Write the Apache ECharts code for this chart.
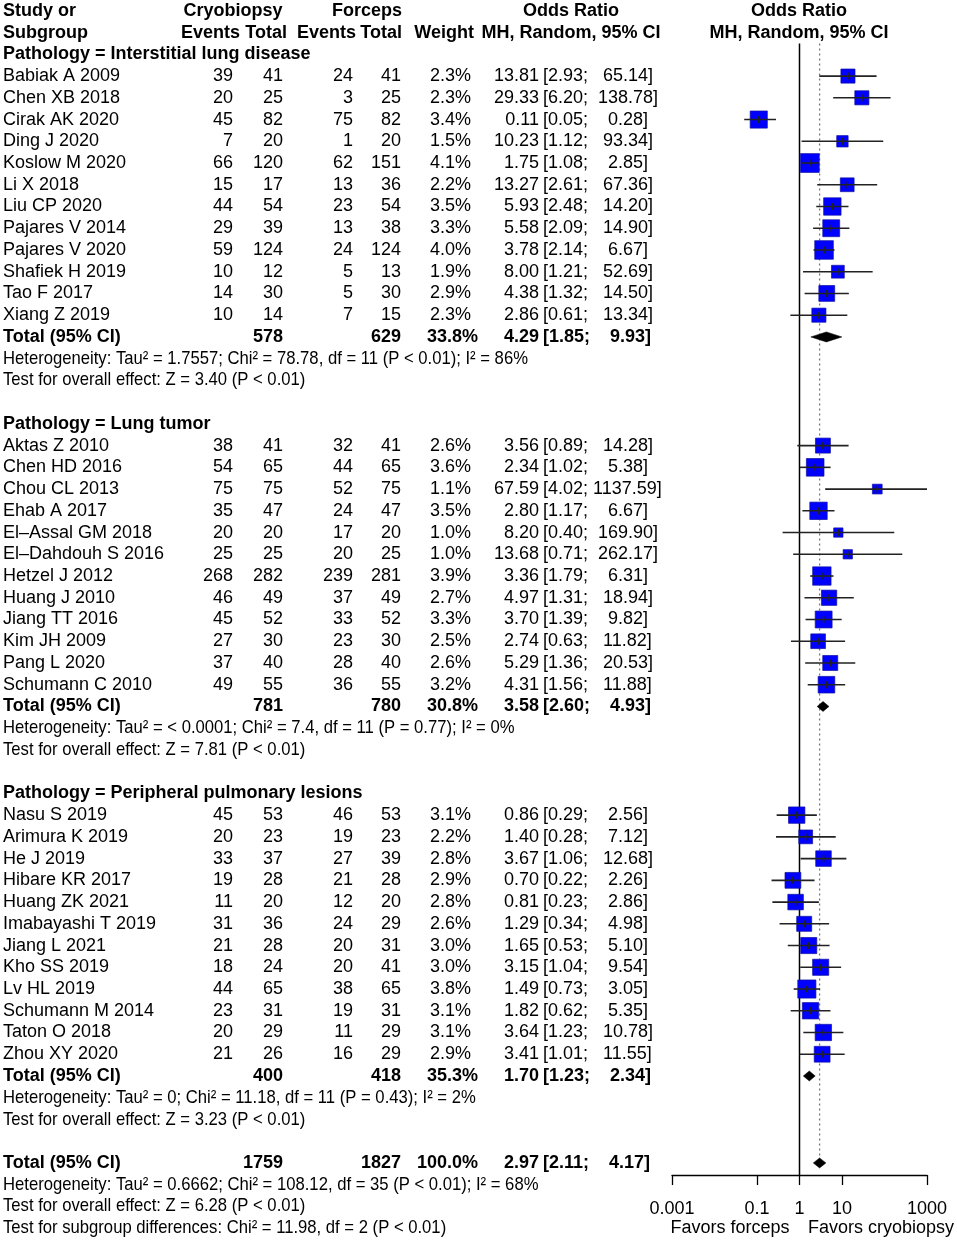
<!DOCTYPE html>
<html>
<head>
<meta charset="utf-8">
<script src="https://cdn.jsdelivr.net/npm/echarts@6/dist/echarts.min.js"></script>
<style>
html, body { margin: 0; padding: 0; background: #fff; }
#main { width: 957px; height: 1244px; }
</style>
</head>
<body>
<div id="main"></div>
<script>
// study rows, in plot order (12 per subgroup)
var studyNames = [
  'Babiak A 2009', 'Chen XB 2018', 'Cirak AK 2020', 'Ding J 2020', 'Koslow M 2020', 'Li X 2018',
  'Liu CP 2020', 'Pajares V 2014', 'Pajares V 2020', 'Shafiek H 2019', 'Tao F 2017', 'Xiang Z 2019',
  'Aktas Z 2010', 'Chen HD 2016', 'Chou CL 2013', 'Ehab A 2017', 'El\u2013Assal GM 2018', 'El\u2013Dahdouh S 2016',
  'Hetzel J 2012', 'Huang J 2010', 'Jiang TT 2016', 'Kim JH 2009', 'Pang L 2020', 'Schumann C 2010',
  'Nasu S 2019', 'Arimura K 2019', 'He J 2019', 'Hibare KR 2017', 'Huang ZK 2021', 'Imabayashi T 2019',
  'Jiang L 2021', 'Kho SS 2019', 'Lv HL 2019', 'Schumann M 2014', 'Taton O 2018', 'Zhou XY 2020'
];
var cryoEvents = [39, 20, 45, 7, 66, 15, 44, 29, 59, 10, 14, 10,
  38, 54, 75, 35, 20, 25, 268, 46, 45, 27, 37, 49,
  45, 20, 33, 19, 11, 31, 21, 18, 44, 23, 20, 21];
var cryoTotals = [41, 25, 82, 20, 120, 17, 54, 39, 124, 12, 30, 14,
  41, 65, 75, 47, 20, 25, 282, 49, 52, 30, 40, 55,
  53, 23, 37, 28, 20, 36, 28, 24, 65, 31, 29, 26];
var forcepsEvents = [24, 3, 75, 1, 62, 13, 23, 13, 24, 5, 5, 7,
  32, 44, 52, 24, 17, 20, 239, 37, 33, 23, 28, 36,
  46, 19, 27, 21, 12, 24, 20, 20, 38, 19, 11, 16];
var forcepsTotals = [41, 25, 82, 20, 151, 36, 54, 38, 124, 13, 30, 15,
  41, 65, 75, 47, 20, 25, 281, 49, 52, 30, 40, 55,
  53, 23, 39, 28, 20, 29, 31, 41, 65, 31, 29, 29];
var weights = [2.3, 2.3, 3.4, 1.5, 4.1, 2.2, 3.5, 3.3, 4.0, 1.9, 2.9, 2.3,
  2.6, 3.6, 1.1, 3.5, 1.0, 1.0, 3.9, 2.7, 3.3, 2.5, 2.6, 3.2,
  3.1, 2.2, 2.8, 2.9, 2.8, 2.6, 3.0, 3.0, 3.8, 3.1, 3.1, 2.9];
var oddsRatios = [13.81, 29.33, 0.11, 10.23, 1.75, 13.27, 5.93, 5.58, 3.78, 8.00, 4.38, 2.86,
  3.56, 2.34, 67.59, 2.80, 8.20, 13.68, 3.36, 4.97, 3.70, 2.74, 5.29, 4.31,
  0.86, 1.40, 3.67, 0.70, 0.81, 1.29, 1.65, 3.15, 1.49, 1.82, 3.64, 3.41];
var ciLower = [2.93, 6.20, 0.05, 1.12, 1.08, 2.61, 2.48, 2.09, 2.14, 1.21, 1.32, 0.61,
  0.89, 1.02, 4.02, 1.17, 0.40, 0.71, 1.79, 1.31, 1.39, 0.63, 1.36, 1.56,
  0.29, 0.28, 1.06, 0.22, 0.23, 0.34, 0.53, 1.04, 0.73, 0.62, 1.23, 1.01];
var ciUpper = [65.14, 138.78, 0.28, 93.34, 2.85, 67.36, 14.20, 14.90, 6.67, 52.69, 14.50, 13.34,
  14.28, 5.38, 1137.59, 6.67, 169.90, 262.17, 6.31, 18.94, 9.82, 11.82, 20.53, 11.88,
  2.56, 7.12, 12.68, 2.26, 2.86, 4.98, 5.10, 9.54, 3.05, 5.35, 10.78, 11.55];

// subgroup summaries
var subgroupNames = ['Interstitial lung disease', 'Lung tumor', 'Peripheral pulmonary lesions'];
var subgroupSizes = [12, 12, 12];
var subgroupCryoTotals = [578, 781, 400];
var subgroupForcepsTotals = [629, 780, 418];
var subgroupWeights = [33.8, 30.8, 35.3];
var subgroupOR = [4.29, 3.58, 1.70];
var subgroupLower = [1.85, 2.60, 1.23];
var subgroupUpper = [9.93, 4.93, 2.34];
var subgroupHeterogeneity = [
  'Heterogeneity: Tau\u00b2 = 1.7557; Chi\u00b2 = 78.78, df = 11 (P < 0.01); I\u00b2 = 86%',
  'Heterogeneity: Tau\u00b2 = < 0.0001; Chi\u00b2 = 7.4, df = 11 (P = 0.77); I\u00b2 = 0%',
  'Heterogeneity: Tau\u00b2 = 0; Chi\u00b2 = 11.18, df = 11 (P = 0.43); I\u00b2 = 2%'
];
var subgroupEffectTests = [
  'Test for overall effect: Z = 3.40 (P < 0.01)',
  'Test for overall effect: Z = 7.81 (P < 0.01)',
  'Test for overall effect: Z = 3.23 (P < 0.01)'
];

// overall
var overallCryoTotal = 1759;
var overallForcepsTotal = 1827;
var overallWeight = 100.0;
var overallOR = 2.97;
var overallLower = 2.11;
var overallUpper = 4.17;
var overallHeterogeneity = 'Heterogeneity: Tau\u00b2 = 0.6662; Chi\u00b2 = 108.12, df = 35 (P < 0.01); I\u00b2 = 68%';
var overallEffectTest = 'Test for overall effect: Z = 6.28 (P < 0.01)';
var subgroupDifferenceTest = 'Test for subgroup differences: Chi\u00b2 = 11.98, df = 2 (P < 0.01)';

var tickLabels = ['0.001', '0.1', '1', '10', '1000'];
var favorsLabels = ['Favors forceps', 'Favors cryobiopsy'];

// ---- layout ----
var H = 1244;
var GRID_BOTTOM = 5;
var NROWS = 57;
var ROW_H = (H - GRID_BOTTOM) / NROWS;
var AXIS_Y = 1175;
var PLOT_LEFT = 672, PLOT_WIDTH = 255;
var AX_MIN = -3, AX_MAX = 3;
var SQUARE_K = 9.3;
var FONT = '"Liberation Sans", Arial, Helvetica, sans-serif';
var NARROW_SCALE = 0.9; // the stats lines are set in a condensed face
var X = { study: 3, cryoEv: 233, cryoTot: 283, forEv: 353, forTot: 401, weight: 471, weightBold: 478, eff: 539, ci: 543, forest: 799 };

function lg(v) { return Math.round(Math.log10(v) * 1e6) / 1e6; }
function ciText(lo, hi) {
  var u = hi.toFixed(2);
  return '[' + lo.toFixed(2) + '; ' + ' '.repeat(Math.max(0, 7 - u.length)) + u + ']';
}

var cells = [];
var studyPts = [];
var diamonds = [];
function addCell(x, row, text, align, kind) {
  cells.push({ x: x, row: row, text: String(text), align: align, kind: kind });
}

// header
addCell(X.study, 0, 'Study or', 'left', 'bold');
addCell(233, 0, 'Cryobiopsy', 'center', 'bold');
addCell(367, 0, 'Forceps', 'center', 'bold');
addCell(571, 0, 'Odds Ratio', 'center', 'bold');
addCell(X.forest, 0, 'Odds Ratio', 'center', 'bold');
addCell(X.study, 1, 'Subgroup', 'left', 'bold');
addCell(240, 1, 'Events', 'right', 'bold');
addCell(287, 1, 'Total', 'right', 'bold');
addCell(356, 1, 'Events', 'right', 'bold');
addCell(402, 1, 'Total', 'right', 'bold');
addCell(474, 1, 'Weight', 'right', 'bold');
addCell(571, 1, 'MH, Random, 95% CI', 'center', 'bold');
addCell(X.forest, 1, 'MH, Random, 95% CI', 'center', 'bold');

function addTotal(row, cTot, fTot, w, or, lo, hi) {
  addCell(X.study, row, 'Total (95% CI)', 'left', 'bold');
  addCell(X.cryoTot, row, cTot, 'right', 'bold');
  addCell(X.forTot, row, fTot, 'right', 'bold');
  addCell(X.weightBold, row, w.toFixed(1) + '%', 'right', 'bold');
  addCell(X.eff, row, or.toFixed(2), 'right', 'bold');
  addCell(X.ci, row, ciText(lo, hi), 'left', 'bold');
  diamonds.push([lg(or), lg(lo), lg(hi), row]);
}

var row = 2, k = 0;
subgroupNames.forEach(function (name, g) {
  addCell(X.study, row, 'Pathology = ' + name, 'left', 'bold');
  row++;
  for (var i = 0; i < subgroupSizes[g]; i++, k++, row++) {
    addCell(X.study, row, studyNames[k], 'left', 'normal');
    addCell(X.cryoEv, row, cryoEvents[k], 'right', 'normal');
    addCell(X.cryoTot, row, cryoTotals[k], 'right', 'normal');
    addCell(X.forEv, row, forcepsEvents[k], 'right', 'normal');
    addCell(X.forTot, row, forcepsTotals[k], 'right', 'normal');
    addCell(X.weight, row, weights[k].toFixed(1) + '%', 'right', 'normal');
    addCell(X.eff, row, oddsRatios[k].toFixed(2), 'right', 'normal');
    addCell(X.ci, row, ciText(ciLower[k], ciUpper[k]), 'left', 'normal');
    studyPts.push([lg(oddsRatios[k]), lg(ciLower[k]), lg(ciUpper[k]), row, weights[k]]);
  }
  addTotal(row, subgroupCryoTotals[g], subgroupForcepsTotals[g], subgroupWeights[g],
    subgroupOR[g], subgroupLower[g], subgroupUpper[g]);
  row++;
  addCell(X.study, row++, subgroupHeterogeneity[g], 'left', 'narrow');
  addCell(X.study, row++, subgroupEffectTests[g], 'left', 'narrow');
  row++; // blank line
});
addTotal(row, overallCryoTotal, overallForcepsTotal, overallWeight, overallOR, overallLower, overallUpper);
var overallRow = row;
row++;
addCell(X.study, row++, overallHeterogeneity, 'left', 'narrow');
addCell(X.study, row++, overallEffectTest, 'left', 'narrow');
addCell(X.study, row, subgroupDifferenceTest, 'left', 'narrow');
addCell(730, row, favorsLabels[0], 'center', 'normal');
addCell(881, row, favorsLabels[1], 'center', 'normal');

var tickValues = tickLabels.map(function (s) { return lg(parseFloat(s)); });
var plotRowMax = -0.5 + AXIS_Y / ROW_H;
// vertical reference lines: no effect and overall estimate
var refLines = [[lg(1), 1.5, plotRowMax, 0], [lg(overallOR), 1.5, overallRow, 1]];

var chart = echarts.init(document.getElementById('main'), null, { renderer: 'canvas' });
chart.setOption({
  animation: false,
  backgroundColor: '#fff',
  grid: [
    { left: 0, right: 0, top: 0, bottom: GRID_BOTTOM, outerBoundsMode: 'none' },
    { left: PLOT_LEFT, width: PLOT_WIDTH, top: 0, height: AXIS_Y, outerBoundsMode: 'none' }
  ],
  xAxis: [
    { gridIndex: 0, type: 'value', min: 0, max: 957, show: false },
    {
      gridIndex: 1, type: 'value', min: AX_MIN, max: AX_MAX, interval: 1, position: 'bottom',
      axisLine: { show: true, onZero: false, lineStyle: { color: '#000', width: 1.3 } },
      axisTick: { show: true, customValues: tickValues, length: 10, lineStyle: { color: '#000', width: 1.3 } },
      axisLabel: {
        customValues: tickValues, margin: 25, color: '#000', fontSize: 18, fontFamily: FONT,
        formatter: function (v) {
          for (var i = 0; i < tickValues.length; i++) if (Math.abs(tickValues[i] - v) < 1e-6) return tickLabels[i];
          return '';
        }
      },
      splitLine: { show: false }
    }
  ],
  yAxis: [
    { gridIndex: 0, type: 'value', min: -0.5, max: NROWS - 0.5, inverse: true, show: false },
    { gridIndex: 1, type: 'value', min: -0.5, max: plotRowMax, inverse: true, show: false }
  ],
  series: [
    {
      type: 'custom', xAxisIndex: 0, yAxisIndex: 0, silent: true,
      data: cells.map(function (c) { return [c.x, c.row]; }),
      renderItem: function (params, api) {
        var c = cells[params.dataIndex];
        var p = api.coord([c.x, c.row]);
        var narrow = c.kind === 'narrow';
        return {
          type: 'text', x: p[0], y: p[1], scaleX: narrow ? NARROW_SCALE : 1,
          style: {
            text: c.text, align: c.align, verticalAlign: 'middle', fill: '#000',
            fontFamily: FONT, fontSize: narrow ? 18.5 : 18, fontWeight: c.kind === 'bold' ? 'bold' : 'normal'
          }
        };
      }
    },
    {
      type: 'custom', xAxisIndex: 1, yAxisIndex: 1, silent: true, clip: false, z: 1,
      data: refLines,
      renderItem: function (params, api) {
        var x = api.coord([api.value(0), 0])[0];
        var y1 = api.coord([0, api.value(1)])[1];
        var y2 = api.coord([0, api.value(2)])[1];
        var dotted = api.value(3) === 1;
        return {
          type: 'line', shape: { x1: x, y1: y1, x2: x, y2: y2 },
          style: dotted ? { stroke: '#777', lineWidth: 1.3, lineDash: [2, 3] } : { stroke: '#000', lineWidth: 1.5 }
        };
      }
    },
    {
      type: 'custom', xAxisIndex: 1, yAxisIndex: 1, silent: true, clip: false, z: 3,
      data: studyPts,
      renderItem: function (params, api) {
        var y = api.coord([0, api.value(3)])[1];
        var xc = api.coord([api.value(0), 0])[0];
        var xl = api.coord([Math.max(api.value(1), AX_MIN), 0])[0];
        var xh = api.coord([Math.min(api.value(2), AX_MAX), 0])[0];
        var s = SQUARE_K * Math.sqrt(api.value(4));
        return {
          type: 'group', children: [
            { type: 'rect', shape: { x: xc - s / 2, y: y - s / 2, width: s, height: s }, style: { fill: '#0000ff', stroke: '#1010a0', lineWidth: 0.7 } },
            { type: 'line', shape: { x1: xl, y1: y, x2: xh, y2: y }, style: { stroke: '#222', lineWidth: 1.6 } },
            { type: 'line', shape: { x1: xc, y1: y - 3.5, x2: xc, y2: y + 3.5 }, style: { stroke: '#222', lineWidth: 1.6 } }
          ]
        };
      }
    },
    {
      type: 'custom', xAxisIndex: 1, yAxisIndex: 1, silent: true, clip: false, z: 3,
      data: diamonds,
      renderItem: function (params, api) {
        var y = api.coord([0, api.value(3)])[1];
        var xc = api.coord([api.value(0), 0])[0];
        var xl = api.coord([api.value(1), 0])[0];
        var xh = api.coord([api.value(2), 0])[0];
        return {
          type: 'polygon',
          shape: { points: [[xl, y], [xc, y - 5], [xh, y], [xc, y + 5]] },
          style: { fill: '#000', stroke: '#000', lineWidth: 0.5 }
        };
      }
    }
  ]
});
</script>
</body>
</html>
